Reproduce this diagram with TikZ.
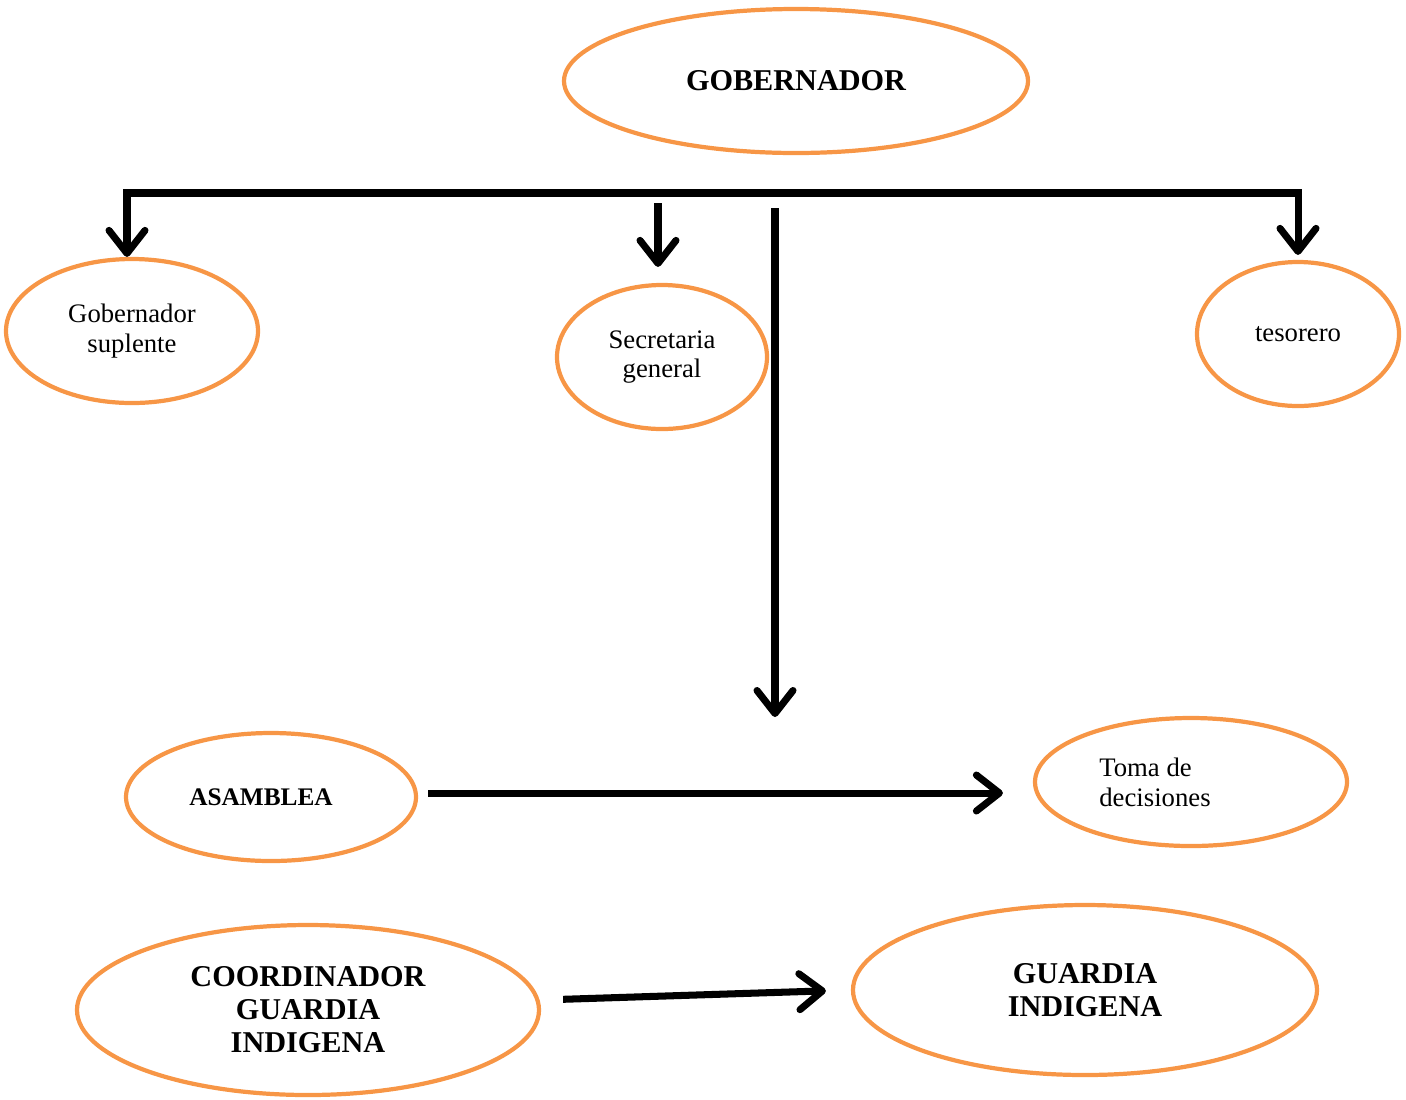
\documentclass[tikz,border=0pt]{standalone}
\usepackage{fontspec}
\setmainfont{Liberation Serif}
\usetikzlibrary{arrows.meta, calc, positioning, shapes.geometric}
\definecolor{unitorange}{HTML}{F79646}
\tikzset{
>={Straight Barb[length=2.3mm,width=3.6mm,round]}, % open arrow heads
every node/.style={inner sep=1pt},
unit/.style={ellipse, draw=unitorange, line width=1.2pt, align=center}, % orange rings
link/.style={line width=2pt}, % black connectors
big/.style={font=\fontsize{8.6}{9.4}\selectfont\bfseries},
small/.style={font=\fontsize{7.6}{8.5}\selectfont},
}

\begin{document}
\begin{tikzpicture}
  \useasboundingbox (0,0) rectangle (14.06,-10.99);

  % Gobernador
  \node[unit, big, minimum width=4.64cm, minimum height=1.44cm] at (7.96,-0.81) (gob){GOBERNADOR};

  % Junta
  \node[unit, small, minimum width=2.52cm, minimum height=1.44cm] at (1.32,-3.31) (supl){Gobernador\\suplente};
  \node[unit, small, minimum width=2.10cm, minimum height=1.44cm] at (6.62,-3.57) (secr){Secretaria\\general};
  \node[unit, small, minimum width=2.02cm, minimum height=1.44cm] at (12.98,-3.34) (teso){tesorero};

  % Asamblea
  \node[unit, font=\fontsize{7.2}{8.5}\selectfont\bfseries, minimum width=2.90cm, minimum height=1.28cm,
    label={[font=\fontsize{7.2}{8.5}\selectfont\bfseries, xshift=-0.1cm]center:ASAMBLEA}] at (2.71,-7.97) (asam){};
  \node[unit, minimum width=3.12cm, minimum height=1.28cm,
    label={[small, align=left, xshift=-0.36cm]center:Toma de\\decisiones}] at (11.91,-7.82) (toma){};

  % Guardia
  \node[unit, big, minimum width=4.62cm, minimum height=1.70cm] at (3.08,-10.10) (coord){COORDINADOR\\GUARDIA\\INDIGENA};
  \node[unit, big, minimum width=4.64cm, minimum height=1.70cm] at (10.85,-9.90) (guar){GUARDIA\\INDIGENA};

  % Connectors
  \coordinate (barR) at (12.98,-1.93);
  \coordinate (secTop) at (6.58,-2.03);
  \coordinate (vTop) at (7.75,-2.08);
  \coordinate (vBot) at (7.75,-7.17);

  \draw[link, <->, shorten >=0.05cm] ([xshift=-0.05cm]supl.north) |- (barR) -- (teso.north);
  \draw[link, ->, shorten >=0.16cm] (secTop) -- (secTop |- secr.north);
  \draw[link, ->] (vTop) -- (vBot);
  \draw[link, ->, shorten <=0.1cm, shorten >=0.3cm] ([yshift=0.04cm]asam.east) -- ([yshift=0.04cm]asam.east -| toma.west);
  \draw[link, ->, shorten <=0.22cm, shorten >=0.25cm] ([yshift=0.1cm]coord.east) -- (guar.west);
\end{tikzpicture}
\end{document}
